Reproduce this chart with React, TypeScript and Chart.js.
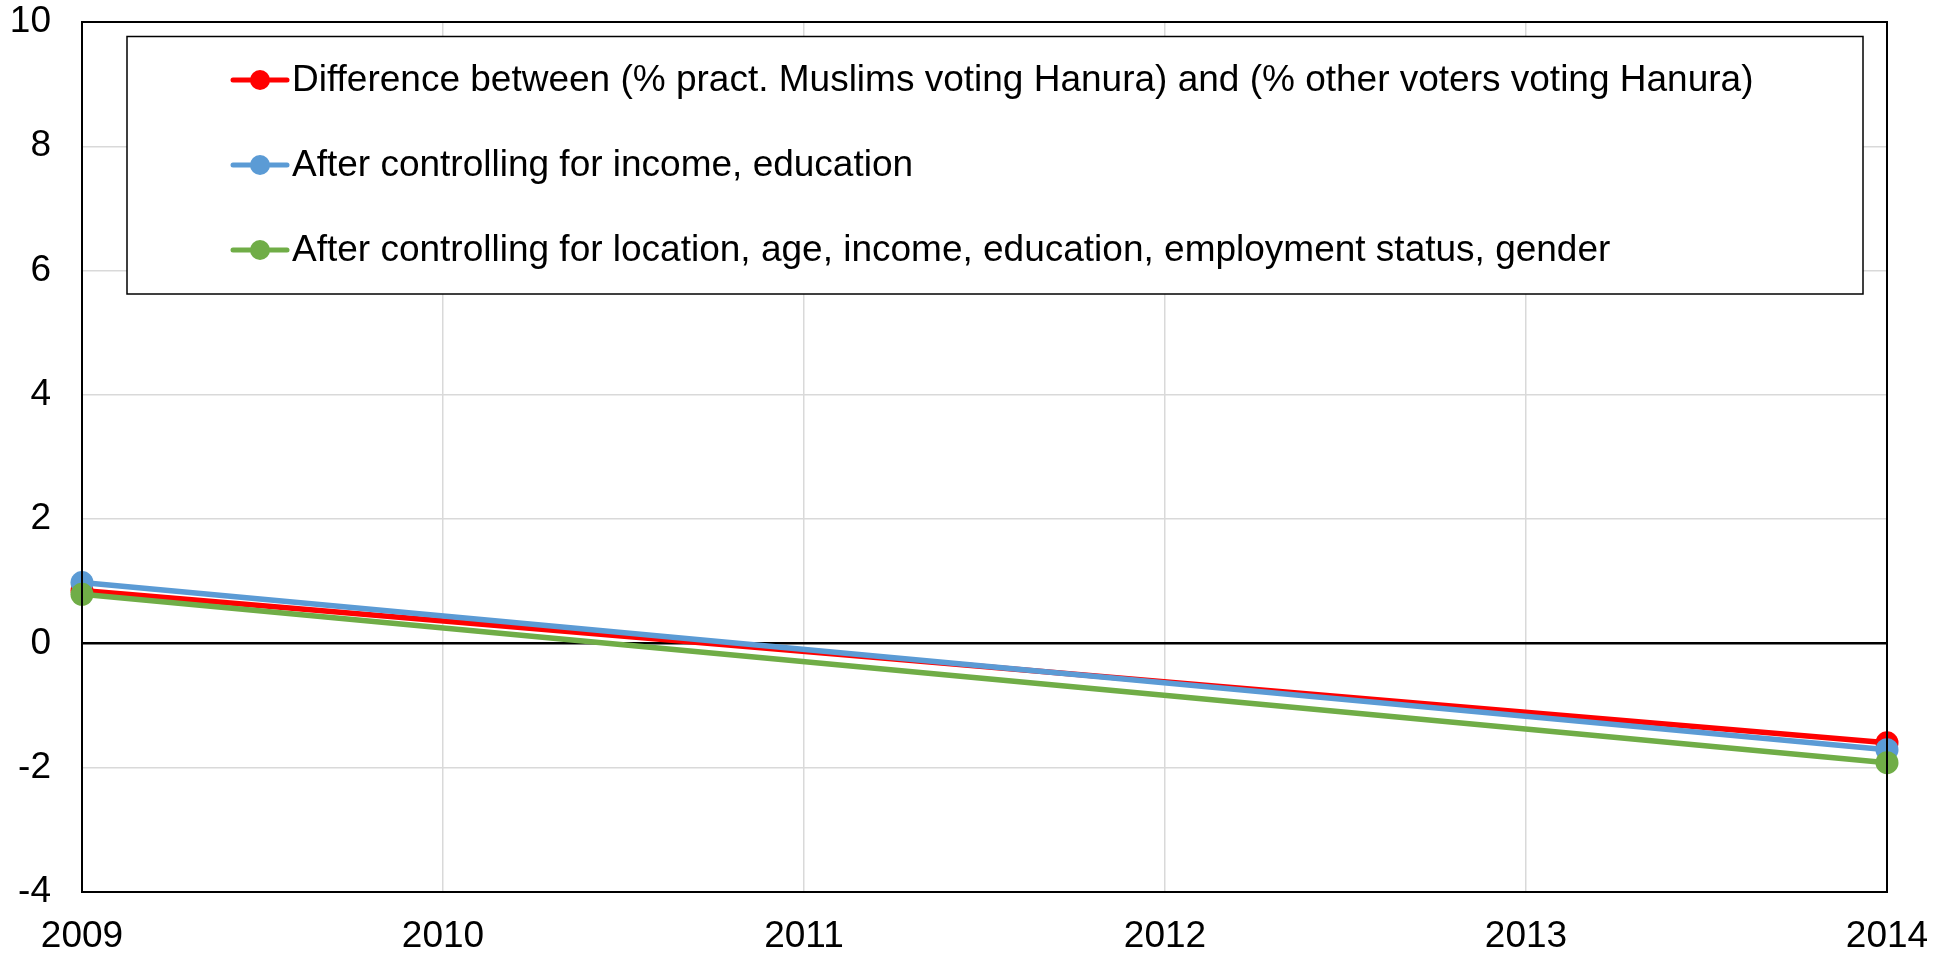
import React, { useEffect, useRef } from "react";
import { Chart, registerables } from "chart.js";

Chart.register(...registerables);

const years = [2009, 2014];
const seriesLabels = [
  "Difference between (% pract. Muslims voting Hanura) and (% other voters voting Hanura)",
  "After controlling for income, education",
  "After controlling for location, age, income, education, employment status, gender",
];
const diffValues = [0.85, -1.6];
const incomeEduValues = [0.98, -1.71];
const fullControlValues = [0.79, -1.92];
const seriesColors = ["#ff0000", "#5b9bd5", "#70ad47"];
const yTicks = [-4, -2, 0, 2, 4, 6, 8, 10];
const xTicks = [2009, 2010, 2011, 2012, 2013, 2014];

const FONT = "'Liberation Sans', Arial, sans-serif";

const frameAndLegend = {
  id: "frameAndLegend",
  afterDatasetsDraw(chart: any) {
    const { ctx, chartArea } = chart;
    ctx.save();
    ctx.strokeStyle = "#000";
    ctx.lineWidth = 2;
    ctx.strokeRect(chartArea.left, chartArea.top, chartArea.right - chartArea.left, chartArea.bottom - chartArea.top);
    // legend box
    const bx = 127, by = 36.5, bw = 1863 - 127, bh = 294 - 36.5;
    ctx.fillStyle = "#fff";
    ctx.fillRect(bx, by, bw, bh);
    ctx.lineWidth = 1.5;
    ctx.strokeRect(bx, by, bw, bh);
    const rows = [80, 165, 250];
    chart.data.datasets.forEach((ds: any, i: number) => {
      const y = rows[i];
      ctx.strokeStyle = ds.borderColor;
      ctx.lineWidth = 5;
      ctx.lineCap = "round";
      ctx.beginPath();
      ctx.moveTo(233, y);
      ctx.lineTo(287, y);
      ctx.stroke();
      ctx.fillStyle = ds.borderColor;
      ctx.beginPath();
      ctx.arc(260, y, 10, 0, Math.PI * 2);
      ctx.fill();
      ctx.fillStyle = "#000";
      ctx.font = `37px ${FONT}`;
      ctx.textBaseline = "middle";
      ctx.textAlign = "left";
      ctx.fillText(ds.label, 292, y + 1);
    });
    ctx.restore();
  },
};

export default function App() {
  const ref = useRef<HTMLCanvasElement>(null);
  useEffect(() => {
    document.body.style.margin = "0";
    const mk = (vals: number[]) => years.map((x, i) => ({ x, y: vals[i] }));
    const allVals = [diffValues, incomeEduValues, fullControlValues];
    const chart = new Chart(ref.current!, {
      type: "line",
      data: {
        datasets: allVals.map((v, i) => ({
          label: seriesLabels[i],
          data: mk(v),
          borderColor: seriesColors[i],
          backgroundColor: seriesColors[i],
          borderWidth: 5.5,
          pointRadius: 11.5,
          pointBorderWidth: 0,
          pointHoverRadius: 11.5,
          clip: false as any,
          tension: 0,
          order: 3 - i,
        })),
      },
      options: {
        animation: false,
        responsive: false,
        maintainAspectRatio: false,
        layout: { padding: { left: 0, right: 63, top: 22, bottom: 0 } },
        plugins: { legend: { display: false }, tooltip: { enabled: false } },
        scales: {
          x: {
            type: "linear",
            min: 2009,
            max: 2014,
            afterBuildTicks: (s: any) => {
              s.ticks = xTicks.map((v) => ({ value: v }));
            },
            afterFit: (s: any) => {
              s.height = 63;
              s.paddingLeft = 0;
              s.paddingRight = 0;
            },
            grid: { color: "#d9d9d9", lineWidth: 1.5, drawTicks: false },
            border: { display: false },
            ticks: {
              color: "#000",
              font: { family: FONT, size: 37 },
              padding: 23,
              maxRotation: 0,
              autoSkip: false,
              callback: (v: any) => String(v),
            },
          },
          y: {
            min: -4,
            max: 10,
            afterBuildTicks: (s: any) => {
              s.ticks = yTicks.map((v) => ({ value: v }));
            },
            afterFit: (s: any) => {
              s.width = 82;
              s.paddingTop = 0;
              s.paddingBottom = 0;
            },
            grid: {
              color: (c: any) => (c.tick && c.tick.value === 0 ? "#000" : "#d9d9d9"),
              lineWidth: (c: any) => (c.tick && c.tick.value === 0 ? 2.5 : 1.5),
              drawTicks: false,
            },
            border: { display: false },
            ticks: {
              color: "#000",
              font: { family: FONT, size: 37 },
              padding: 31,
              callback: (v: any) => String(v),
            },
          },
        },
      },
      plugins: [frameAndLegend],
    });
    return () => chart.destroy();
  }, []);
  return (
    <div style={{ position: "absolute", left: 0, top: 0, width: 1950, height: 955, background: "#fff" }}>
      <canvas ref={ref} width={1950} height={955} style={{ width: 1950, height: 955 }} />
    </div>
  );
}
